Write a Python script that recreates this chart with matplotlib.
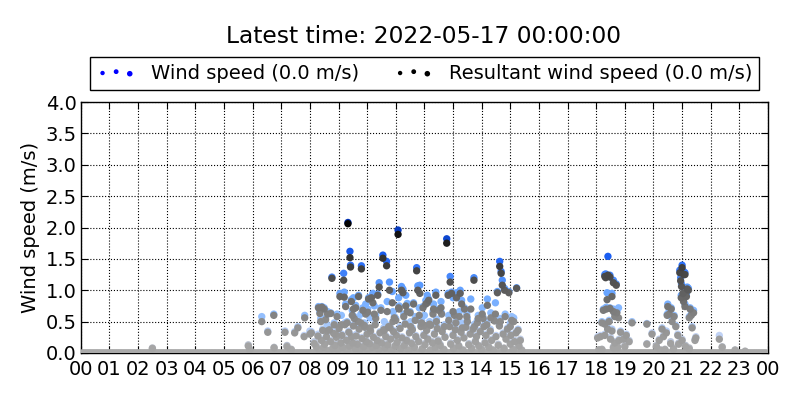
import numpy as np
import matplotlib
matplotlib.use('Agg')
import matplotlib.pyplot as plt
from matplotlib.colors import LinearSegmentedColormap, Normalize
from matplotlib.legend_handler import HandlerPathCollection

# calm readings (0.0 m/s) every 5 minutes across the day
base_hours = np.arange(0, 24, 1 / 12.0)
base_ws = np.zeros(len(base_hours))

# early morning, 02-08
early_hours = [2.50, 5.85, 5.90, 6.32, 6.53, 6.74, 6.75, 7.13, 7.20, 7.35, 7.47, 7.58,
               7.80, 7.82, 8.00, 8.05, 8.15]
early_ws = [0.08, 0.13, 0.06, 0.58, 0.35, 0.62, 0.09, 0.35, 0.12, 0.06, 0.34, 0.42,
            0.28, 0.60, 0.35, 0.34, 0.18]
early_rs = [0.07, 0.11, 0.05, 0.50, 0.33, 0.60, 0.08, 0.33, 0.10, 0.05, 0.32, 0.40,
            0.26, 0.56, 0.30, 0.32, 0.15]

# daytime, stronger gusts 08-15
day_hours = [8.30, 8.35, 8.42, 8.50, 8.55, 8.62, 8.73, 8.77, 8.85, 8.95, 9.05, 9.18,
             9.20, 9.25, 9.33, 9.40, 9.42, 9.45, 9.55, 9.60, 9.70, 9.80, 9.85, 9.95,
             10.05, 10.15, 10.25, 10.37, 10.42, 10.55, 10.68, 10.78, 10.88, 10.95, 11.08,
             11.12, 11.20, 11.25, 11.40, 11.50, 11.62, 11.73, 11.77, 11.84, 11.95, 12.05,
             12.15, 12.30, 12.40, 12.50, 12.60, 12.78, 12.83, 12.90, 12.95, 13.05, 13.12,
             13.25, 13.30, 13.40, 13.50, 13.73, 13.85, 14.05, 14.20, 14.45, 14.55, 14.63,
             14.68, 14.72, 14.80, 14.95, 15.05, 15.22, 15.27]
day_ws = [0.74, 0.66, 0.74, 0.72, 0.56, 0.66, 0.64, 1.21, 0.48, 0.62, 0.95, 1.27,
          0.97, 0.78, 2.08, 1.62, 1.40, 0.85, 0.58, 0.76, 0.92, 1.39, 0.72, 0.78,
          0.88, 0.90, 0.75, 0.94, 1.12, 1.56, 1.46, 1.13, 0.98, 0.58, 1.96,
          0.75, 1.06, 1.02, 0.79, 0.66, 0.80, 1.36, 1.07, 1.08, 0.74, 0.84,
          0.86, 0.66, 0.97, 0.70, 0.64, 1.82, 0.95, 1.22, 0.97, 0.64, 0.96,
          1.00, 0.84, 0.72, 0.55, 1.20, 0.52, 0.57, 0.86, 0.53, 0.98, 1.46,
          1.30, 1.16, 1.03, 0.98, 0.58, 1.04, 0.38]
day_rs = [0.72, 0.63, 0.73, 0.70, 0.53, 0.62, 0.63, 1.19, 0.45, 0.58, 0.90, 1.16,
          0.89, 0.74, 2.06, 1.52, 1.37, 0.82, 0.55, 0.72, 0.90, 1.34, 0.68, 0.62,
          0.86, 0.88, 0.62, 0.92, 1.05, 1.51, 1.39, 1.00, 0.80, 0.56, 1.89,
          0.70, 1.00, 0.96, 0.66, 0.64, 0.78, 1.31, 1.00, 0.95, 0.72, 0.78,
          0.84, 0.62, 0.92, 0.68, 0.62, 1.75, 0.92, 1.13, 0.95, 0.60, 0.88,
          0.95, 0.78, 0.70, 0.50, 1.16, 0.48, 0.55, 0.76, 0.51, 0.96, 1.38,
          1.27, 1.08, 1.00, 0.96, 0.52, 1.03, 0.36]

# daytime, moderate readings 08-15
mid_hours = [8.38, 8.60, 8.90, 9.10, 9.30, 9.48, 9.52, 9.68, 9.78, 9.90, 10.02, 10.10,
             10.20, 10.30, 10.48, 10.60, 10.70, 10.80, 10.90, 11.00, 11.10, 11.28, 11.35,
             11.52, 11.68, 11.82, 11.90, 12.00, 12.10, 12.18, 12.32, 12.42, 12.58, 12.70,
             12.85, 13.00, 13.10, 13.22, 13.32, 13.48, 13.62, 13.75, 13.88, 14.02, 14.18,
             14.32, 14.48, 14.65, 14.82, 15.00, 15.12]
mid_ws = [0.55, 0.45, 0.35, 0.60, 0.50, 0.68, 0.88, 0.55, 0.62, 0.48, 0.70, 0.56,
          0.95, 0.60, 0.72, 0.50, 0.82, 0.42, 0.66, 0.55, 0.88, 0.62, 0.92,
          0.50, 0.58, 0.72, 0.52, 0.60, 0.92, 0.50, 0.78, 0.54, 0.82, 0.45,
          0.60, 0.88, 0.50, 0.66, 0.48, 0.62, 0.86, 0.46, 0.60, 0.72, 0.50,
          0.64, 0.80, 0.55, 0.62, 0.48, 0.56]
mid_rs = [0.50, 0.35, 0.30, 0.45, 0.48, 0.60, 0.70, 0.50, 0.48, 0.44, 0.65, 0.40,
          0.80, 0.55, 0.68, 0.36, 0.66, 0.40, 0.50, 0.52, 0.72, 0.58, 0.75,
          0.42, 0.52, 0.60, 0.48, 0.44, 0.80, 0.46, 0.70, 0.50, 0.72, 0.42,
          0.52, 0.66, 0.48, 0.58, 0.40, 0.58, 0.70, 0.42, 0.55, 0.62, 0.45,
          0.56, 0.62, 0.50, 0.58, 0.42, 0.50]

# daytime, light readings 08-15
light_hours = [8.22, 8.28, 8.33, 8.40, 8.45, 8.48, 8.52, 8.58, 8.65, 8.68, 8.72, 8.80,
               8.83, 8.88, 8.92, 8.98, 9.02, 9.08, 9.12, 9.15, 9.22, 9.28, 9.30, 9.36,
               9.38, 9.46, 9.50, 9.52, 9.58, 9.62, 9.66, 9.72, 9.75, 9.82, 9.88, 9.92,
               9.97, 10.00, 10.03, 10.08, 10.12, 10.18, 10.22, 10.28, 10.32, 10.35, 10.40,
               10.45, 10.50, 10.58, 10.62, 10.65, 10.72, 10.75, 10.82, 10.85, 10.92, 10.98,
               11.02, 11.05, 11.15, 11.18, 11.22, 11.30, 11.33, 11.38, 11.45, 11.48, 11.55,
               11.58, 11.65, 11.70, 11.80, 11.88, 11.92, 11.98, 12.02, 12.08, 12.12, 12.20,
               12.22, 12.28, 12.35, 12.38, 12.45, 12.48, 12.55, 12.62, 12.68, 12.72, 12.88,
               12.92, 13.00, 13.02, 13.08, 13.15, 13.20, 13.28, 13.35, 13.38, 13.45, 13.55,
               13.60, 13.65, 13.70, 13.78, 13.82, 13.90, 13.95, 14.00, 14.08, 14.12, 14.15,
               14.25, 14.30, 14.35, 14.40, 14.50, 14.58, 14.62, 14.75, 14.78, 14.85, 14.90,
               15.00, 15.02, 15.10, 15.15, 15.20, 15.30, 15.35, 15.40]
light_ws = [0.12, 0.30, 0.05, 0.22, 0.38, 0.10, 0.16, 0.28, 0.04, 0.40, 0.20, 0.08,
            0.33, 0.14, 0.26, 0.06, 0.42, 0.18, 0.30, 0.10, 0.48, 0.22, 0.04, 0.35,
            0.12, 0.28, 0.18, 0.45, 0.08, 0.30, 0.15, 0.40, 0.06, 0.25, 0.12, 0.44,
            0.20, 0.32, 0.05, 0.16, 0.38, 0.10, 0.27, 0.47, 0.14, 0.22, 0.06,
            0.34, 0.18, 0.40, 0.09, 0.28, 0.15, 0.44, 0.24, 0.05, 0.36, 0.12,
            0.30, 0.19, 0.42, 0.08, 0.26, 0.14, 0.48, 0.22, 0.05, 0.34, 0.17,
            0.40, 0.10, 0.28, 0.20, 0.45, 0.07, 0.30, 0.15, 0.38, 0.24, 0.05,
            0.46, 0.18, 0.32, 0.10, 0.42, 0.21, 0.14, 0.36, 0.06, 0.27, 0.44,
            0.16, 0.30, 0.08, 0.40, 0.22, 0.12, 0.35, 0.05, 0.26, 0.44, 0.15,
            0.32, 0.08, 0.40, 0.20, 0.28, 0.12, 0.36, 0.06, 0.44, 0.18, 0.30,
            0.10, 0.38, 0.22, 0.05, 0.28, 0.14, 0.45, 0.32, 0.08, 0.24, 0.40,
            0.16, 0.30, 0.06, 0.20, 0.34, 0.12, 0.22, 0.05]
light_rs = [0.10, 0.27, 0.04, 0.20, 0.36, 0.09, 0.14, 0.26, 0.03, 0.37, 0.18, 0.07,
            0.31, 0.12, 0.25, 0.05, 0.39, 0.16, 0.28, 0.09, 0.45, 0.20, 0.03, 0.33,
            0.11, 0.26, 0.16, 0.43, 0.07, 0.27, 0.14, 0.38, 0.05, 0.23, 0.10, 0.41,
            0.18, 0.30, 0.04, 0.15, 0.35, 0.09, 0.25, 0.45, 0.12, 0.20, 0.05,
            0.32, 0.16, 0.37, 0.08, 0.26, 0.13, 0.42, 0.22, 0.04, 0.34, 0.11,
            0.28, 0.17, 0.39, 0.07, 0.24, 0.12, 0.46, 0.20, 0.04, 0.32, 0.15,
            0.37, 0.09, 0.26, 0.18, 0.42, 0.06, 0.28, 0.13, 0.36, 0.22, 0.04,
            0.44, 0.16, 0.30, 0.09, 0.39, 0.19, 0.12, 0.34, 0.05, 0.25, 0.42,
            0.14, 0.28, 0.07, 0.37, 0.20, 0.11, 0.33, 0.04, 0.24, 0.41, 0.13,
            0.30, 0.07, 0.38, 0.18, 0.26, 0.11, 0.34, 0.05, 0.42, 0.16, 0.28,
            0.09, 0.35, 0.20, 0.04, 0.26, 0.12, 0.43, 0.30, 0.07, 0.22, 0.38,
            0.14, 0.28, 0.05, 0.18, 0.32, 0.11, 0.20, 0.04]

# evening, 18-23
eve_hours = [18.05, 18.10, 18.15, 18.20, 18.20, 18.25, 18.30, 18.30, 18.30, 18.33, 18.35,
             18.38, 18.40, 18.41, 18.45, 18.48, 18.48, 18.50, 18.55, 18.55, 18.60, 18.60,
             18.60, 18.65, 18.65, 18.70, 18.70, 18.72, 18.75, 18.78, 18.80, 18.85, 18.95,
             19.00, 19.05, 19.15, 19.25,
             19.77, 19.77, 19.95, 20.10, 20.20, 20.25, 20.30, 20.35, 20.40, 20.45, 20.48,
             20.50, 20.55, 20.60, 20.62, 20.65, 20.70, 20.72, 20.78, 20.85, 20.88, 20.92,
             20.95, 20.97, 20.98, 21.00, 21.00, 21.03, 21.05, 21.05, 21.10, 21.10, 21.12,
             21.15, 21.18, 21.22, 21.25, 21.25, 21.28, 21.32, 21.35, 21.40, 21.45, 21.48,
             22.30, 22.40, 22.85, 23.20]
eve_ws = [0.26, 0.05, 0.28, 0.50, 0.06, 0.70, 1.25, 0.48, 0.30, 1.26, 0.73,
          0.96, 0.40, 1.54, 0.52, 1.24, 0.72, 0.25, 0.95, 0.38, 1.16, 0.70,
          0.10, 0.62, 0.18, 1.10, 0.04, 0.66, 0.10, 0.72, 0.22, 0.35, 0.25,
          0.12, 0.30, 0.20, 0.50,
          0.47, 0.15, 0.32, 0.12, 0.22, 0.05, 0.40, 0.28, 0.06, 0.35, 0.62,
          0.78, 0.68, 0.18, 0.72, 0.55, 0.08, 0.60, 0.44, 0.30, 0.16, 1.32,
          1.20, 0.92, 1.10, 1.40, 0.22, 1.05, 1.30, 0.85, 1.28, 0.78, 0.12,
          0.94, 1.05, 1.03, 0.58, 0.08, 0.72, 0.62, 0.42, 0.68, 0.22, 0.26,
          0.28, 0.10, 0.05, 0.03]
eve_rs = [0.24, 0.05, 0.26, 0.48, 0.05, 0.68, 1.22, 0.46, 0.28, 1.20, 0.70,
          0.85, 0.38, 1.24, 0.50, 1.21, 0.71, 0.22, 0.90, 0.35, 1.12, 0.66,
          0.08, 0.58, 0.16, 1.08, 0.03, 0.64, 0.09, 0.56, 0.20, 0.33, 0.22,
          0.10, 0.28, 0.18, 0.48,
          0.46, 0.14, 0.30, 0.10, 0.20, 0.04, 0.38, 0.26, 0.05, 0.32, 0.60,
          0.74, 0.62, 0.15, 0.70, 0.50, 0.06, 0.58, 0.42, 0.28, 0.14, 1.28,
          1.15, 0.88, 1.06, 1.36, 0.20, 0.95, 1.25, 0.82, 1.25, 0.74, 0.10,
          0.90, 1.02, 1.00, 0.56, 0.06, 0.70, 0.60, 0.40, 0.64, 0.20, 0.24,
          0.22, 0.09, 0.04, 0.02]

hour_labels = ['%02d' % (h % 24) for h in range(25)]

hours = np.concatenate([base_hours, early_hours, light_hours, mid_hours, day_hours, eve_hours])
ws = np.concatenate([base_ws, early_ws, light_ws, mid_ws, day_ws, eve_ws])
rs = np.concatenate([base_ws, early_rs, light_rs, mid_rs, day_rs, eve_rs])

ws_cmap = LinearSegmentedColormap.from_list('ws', [
    (0.0, '#aaaaaa'), (0.12, '#c4d4f4'), (0.3, '#8cbcff'),
    (0.5, '#5e9eff'), (0.72, '#1c60f4'), (1.0, '#0030b0')])
rs_cmap = LinearSegmentedColormap.from_list('rs', [
    (0.0, '#aaaaaa'), (0.25, '#8a8a8a'), (0.5, '#575757'),
    (0.75, '#2e2e2e'), (1.0, '#000000')])
norm = Normalize(vmin=0, vmax=2.1)

fig = plt.figure(figsize=(8, 4), dpi=100)
ax = fig.add_axes([0.101, 0.1175, 0.859, 0.6275])

o = np.argsort(ws)
ax.scatter(hours[o], ws[o], c=ws[o], cmap=ws_cmap, norm=norm, s=28,
           edgecolors='none', zorder=2)
o = np.argsort(rs)
ax.scatter(hours[o], rs[o], c=rs[o], cmap=rs_cmap, norm=norm, s=28,
           edgecolors='none', zorder=3)

ax.set_xlim(0, 24)
ax.set_ylim(0, 4)
ax.set_xticks(range(25))
ax.set_xticklabels(hour_labels)
ax.set_yticks(np.arange(0, 4.01, 0.5))
ax.tick_params(direction='in', top=True, right=True, length=5, labelsize=14)
ax.tick_params(axis='x', pad=5)
ax.tick_params(axis='y', pad=3)
ax.grid(True, color='black', linestyle=':', linewidth=0.8)
ax.set_axisbelow(True)
for sp in ax.spines.values():
    sp.set_linewidth(1.0)
ax.set_ylabel('Wind speed (m/s)', fontsize=14)

# legend proxies
h1 = ax.scatter([], [], c='blue', s=12, edgecolors='none')
h2 = ax.scatter([], [], c='black', s=12, edgecolors='none')
hmap = {h1: HandlerPathCollection(sizes=[10, 12, 16]),
        h2: HandlerPathCollection(sizes=[10, 12, 16])}
leg = ax.legend([h1, h2], ['Wind speed (0.0 m/s)', 'Resultant wind speed (0.0 m/s)'],
                handler_map=hmap, scatterpoints=3, scatteryoffsets=[0.45, 0.55, 0.4],
                ncol=2, loc='lower center', bbox_to_anchor=(0.5, 1.048),
                fontsize=14, frameon=True, fancybox=False, edgecolor='black',
                framealpha=1, borderaxespad=0, columnspacing=1.8, handletextpad=0.8,
                borderpad=0.35)
leg.get_frame().set_linewidth(1.0)

fig.text(0.53, 0.908, 'Latest time: 2022-05-17 00:00:00', ha='center', va='center',
         fontsize=16.8)

fig.savefig('out.png', dpi=100, facecolor='white')
